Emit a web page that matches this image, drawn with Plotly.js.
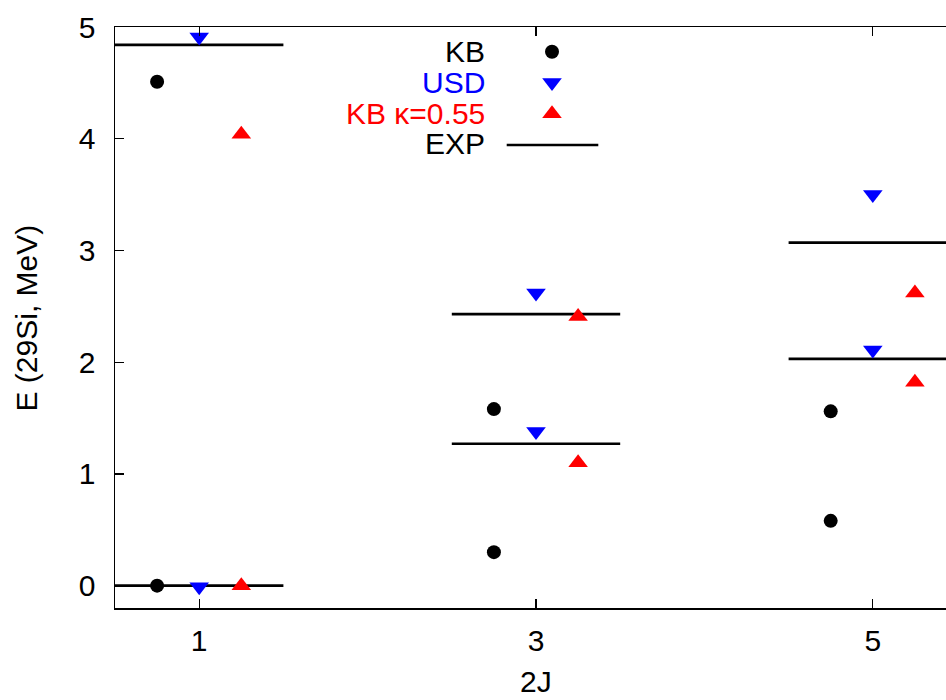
<!DOCTYPE html>
<html>
<head>
<meta charset="utf-8">
<script src="https://cdn.plot.ly/plotly-3.0.1.min.js"></script>
<style>html,body{margin:0;padding:0;background:#fff;}#chart{width:946px;height:700px;}</style>
</head>
<body>
<div id="chart"></div>
<script>
// ---- data ----
const twoJ = [1, 3, 5];
const xTickLabels = ['1', '3', '5'];
const yTickVals = [0, 1, 2, 3, 4, 5];
// two lowest levels for each 2J
const kbLow   = [0.00, 0.30, 0.58];
const kbHigh  = [4.51, 1.58, 1.56];
const usdLow  = [-0.01, 1.38, 2.11];
const usdHigh = [4.91, 2.62, 3.50];
const kbkLow  = [0.00, 1.10, 1.82];
const kbkHigh = [4.04, 2.41, 2.62];
const expLow  = [0.00, 1.27, 2.03];
const expHigh = [4.84, 2.43, 3.07];
const seriesNames = ['KB', 'USD', 'KB \u03ba=0.55', 'EXP'];

// ---- helpers ----
const FONT = 'Liberation Sans, Arial, Helvetica, sans-serif';
const FS = 30;
function pairs(xs, lo, hi, dx) {
  const x = [], y = [];
  xs.forEach((j, i) => { x.push(j + dx, j + dx); y.push(lo[i], hi[i]); });
  return {x, y};
}
const kb = pairs(twoJ, kbLow, kbHigh, -0.25);
const usd = pairs(twoJ, usdLow, usdHigh, 0);
const kbk = pairs(twoJ, kbkLow, kbkHigh, 0.25);
const ex = {x: [], y: []};
twoJ.forEach((j, i) => {
  [expLow[i], expHigh[i]].forEach(v => {
    ex.x.push(j - 0.5, j + 0.5, null);
    ex.y.push(v, v, null);
  });
});

const TRI = 17;
const traces = [
  {x: ex.x, y: ex.y, mode: 'lines', line: {color: '#000', width: 2.6}, name: seriesNames[3], cliponaxis: false},
  {x: kb.x, y: kb.y, mode: 'markers', marker: {symbol: 'circle', size: 14, color: '#000'}, name: seriesNames[0], cliponaxis: false},
  {x: usd.x, y: usd.y, mode: 'markers', marker: {symbol: 'triangle-down', size: TRI, color: '#0000ff'}, name: seriesNames[1], cliponaxis: false},
  {x: kbk.x, y: kbk.y, mode: 'markers', marker: {symbol: 'triangle-up', size: TRI, color: '#ff0000'}, name: seriesNames[2], cliponaxis: false},
  // key samples on an overlay axis measured in pixels
  {x: [552], y: [51.7], xaxis: 'x2', yaxis: 'y2', mode: 'markers', marker: {symbol: 'circle', size: 14, color: '#000'}, showlegend: false, hoverinfo: 'skip'},
  {x: [552], y: [82.5], xaxis: 'x2', yaxis: 'y2', mode: 'markers', marker: {symbol: 'triangle-down', size: TRI, color: '#0000ff'}, showlegend: false, hoverinfo: 'skip'},
  {x: [552], y: [113.7], xaxis: 'x2', yaxis: 'y2', mode: 'markers', marker: {symbol: 'triangle-up', size: TRI, color: '#ff0000'}, showlegend: false, hoverinfo: 'skip'},
  {x: [506.7, 598.3], y: [145, 145], xaxis: 'x2', yaxis: 'y2', mode: 'lines', line: {color: '#000', width: 2.6}, showlegend: false, hoverinfo: 'skip'}
];

const keyColors = ['#000', '#0000ff', '#ff0000', '#000'];
const keyY = [51.7, 82.2, 113.5, 143.3];
const annotations = seriesNames.map((n, i) => ({
  text: n, xref: 'x2', yref: 'y2', x: 487, y: keyY[i], xanchor: 'right', yanchor: 'middle',
  showarrow: false, font: {family: FONT, size: FS, color: keyColors[i]}
}));
annotations.push({text: 'E (29Si, MeV)', xref: 'paper', yref: 'paper', x: -0.1059, y: 0.5,
  textangle: -90, xanchor: 'center', yanchor: 'middle', showarrow: false,
  font: {family: FONT, size: FS, color: '#000'}});
annotations.push({text: '2J', xref: 'x', yref: 'paper', x: 3, y: (608 - 699.5) / 581,
  xanchor: 'center', yanchor: 'bottom', showarrow: false,
  font: {family: FONT, size: FS, color: '#000'}});

const layout = {
  width: 946, height: 700,
  margin: {l: 115, r: 0, t: 27, b: 92, pad: 0},
  paper_bgcolor: '#fff', plot_bgcolor: '#fff',
  showlegend: false,
  font: {family: FONT, size: FS, color: '#000'},
  xaxis: {
    range: [0.5, 0.5 + 831 / 168.4], tickvals: twoJ, ticktext: xTickLabels,
    ticks: 'inside', ticklen: 9, tickwidth: 1.3, tickcolor: '#000',
    showline: true, linecolor: '#000', linewidth: 1.5, mirror: 'ticks',
    showgrid: false, zeroline: false, ticklabelstandoff: 5,
    tickfont: {family: FONT, size: FS, color: '#000'}
  },
  yaxis: {
    range: [-0.2, 5], tickvals: yTickVals,
    ticks: 'inside', ticklen: 9, tickwidth: 1.3, tickcolor: '#000',
    showline: true, linecolor: '#000', linewidth: 1.5, mirror: false,
    showgrid: false, zeroline: false, ticklabelstandoff: 12,
    tickfont: {family: FONT, size: FS, color: '#000'}
  },
  xaxis2: {overlaying: 'x', range: [115, 946], visible: false, fixedrange: true},
  yaxis2: {overlaying: 'y', range: [608, 27], visible: false, fixedrange: true},
  annotations: annotations
};

Plotly.newPlot('chart', traces, layout, {staticPlot: true, displayModeBar: false});
</script>
</body>
</html>
